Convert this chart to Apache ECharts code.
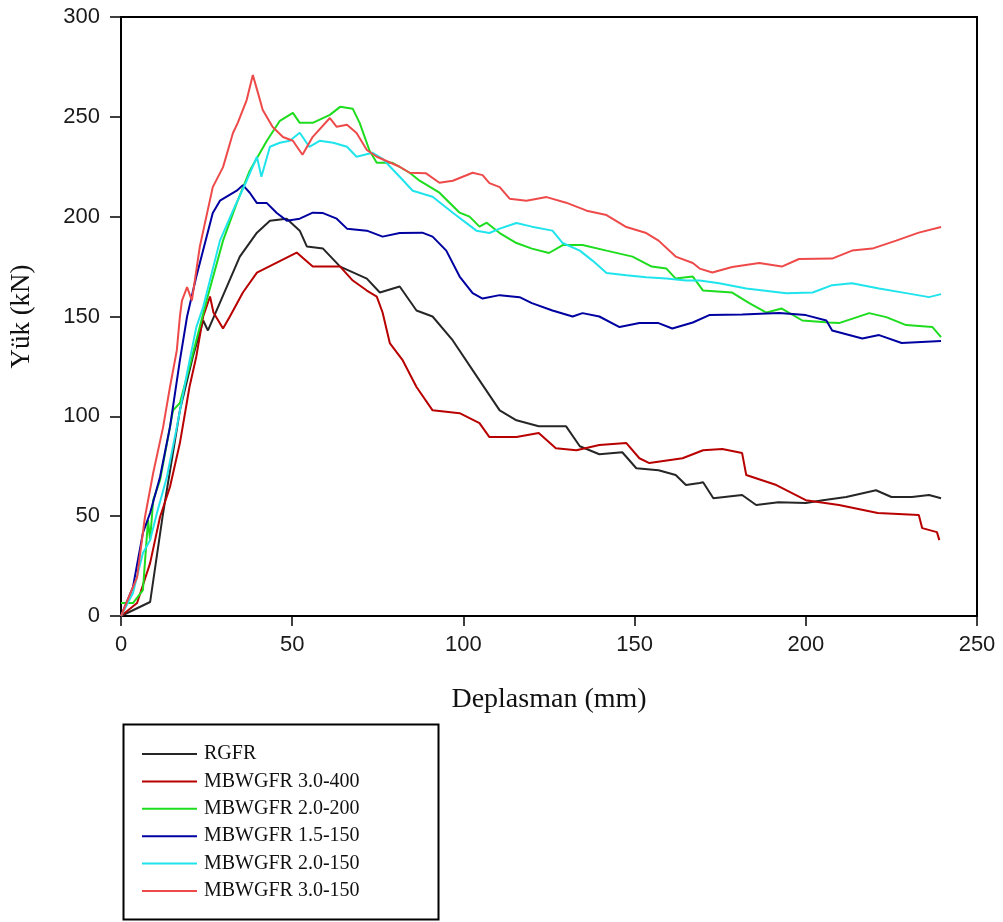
<!DOCTYPE html>
<html><head><meta charset="utf-8">
<script src="https://cdn.jsdelivr.net/npm/echarts@6/dist/echarts.min.js"></script>
<style>html,body{margin:0;padding:0;background:#fff}#c{width:1003px;height:922px}</style>
</head><body><div id="c"></div>
<script>
const xTicks = [0, 50, 100, 150, 200, 250];
const yTicks = [0, 50, 100, 150, 200, 250, 300];
const seriesNames = ['RGFR','MBWGFR 3.0-400','MBWGFR 2.0-200','MBWGFR 1.5-150','MBWGFR 2.0-150','MBWGFR 3.0-150'];

const rgfr = [[0,0],[8.5,7],[12.3,51.6],[17.2,103],[21,130],[24,148],[25.4,143],[28.9,157],[34.7,180],[39.7,192],[43.5,198],[48.4,199],[52.2,193],[54.3,185],[59,184],[64,175],[71.8,169],[75.6,162],[81.4,165],[86.3,153],[91,150],[96.9,138],[104.7,118],[110.6,103],[115.5,98],[122,95],[130,95],[134,85],[139.7,81],[146.4,82],[150.5,74],[157,73],[162,70.6],[165,65.6],[169,66.6],[170,67],[173,59],[181.4,60.6],[185.5,55.6],[192,57],[200,56.6],[205,58],[211.8,59.6],[220.5,63],[225,59.6],[231,59.6],[236,60.6],[239.5,59]];
const m30_400 = [[0,0],[4.7,6.5],[8.5,26.5],[11.4,49.6],[14.3,64.6],[17.2,86.6],[20,114.7],[22,130],[24,150],[26,160],[27,152],[29.8,144],[31.8,150],[35.6,162],[39.7,172],[45.5,177],[51.3,182],[56,175],[61,175],[64,175],[67.7,168],[71.8,163],[74.7,160],[76.4,152],[78.5,136.7],[82.3,128],[86.3,114.7],[91,103],[98.9,101.6],[104.7,96.6],[107.6,89.6],[115.5,89.6],[122,91.6],[127,84],[133,83],[139.7,85.6],[147.6,86.6],[151.4,79],[154.3,76.6],[164,79],[170,83],[175.6,83.6],[181.4,81.6],[182.6,70.6],[191.4,65.6],[200,58],[209.7,55.6],[221,51.6],[233,50.6],[234,44],[238.3,42],[239,38]];
const m20_200 = [[0,6.5],[3.5,6.5],[6.4,13],[7.9,48],[8.5,38],[9.4,58],[11.4,68],[15.2,103],[17.2,106.7],[20,124.7],[23,144.7],[25,158],[29.8,188],[33.8,206.8],[37.6,223],[42.6,238],[46.4,248],[50.2,252],[52.2,247],[56,247],[61,251],[64,255],[67.7,254],[69.7,247],[72.6,233],[74.7,227],[79.3,227],[84.3,222],[87.2,218],[93,212],[98.9,202],[101.8,200],[104.7,195],[106.8,197],[110.6,191.8],[115.5,186.8],[120,184],[125,181.8],[129,185.8],[134.8,185.8],[141.8,183],[149.4,180],[155,175],[159.3,174],[162,169],[167,170],[170,163],[178.5,162],[183.5,156.7],[188.5,152],[193,154],[199,148],[206.8,147],[209.7,146.7],[218.5,151.7],[223.5,149.7],[229.3,145.7],[237,144.7],[239.5,139.7]];
const m15_150 = [[0,0],[3.5,14.5],[6.4,41.6],[8.5,51.6],[11.4,69.6],[14.3,94.6],[17.2,128],[19.3,150],[22,170],[26.8,201.8],[28.9,208],[33.8,213],[35.6,215.8],[37.6,212],[39.7,206.8],[42.6,206.8],[45.5,201.8],[48.4,198],[52.2,199],[56,202],[59,201.8],[63,199],[66,194],[71.8,193],[76.4,190],[81.4,191.8],[88,192],[91,190],[95,183],[98.9,170],[102.7,161.7],[105.6,159],[110.6,160.7],[116.4,159.7],[120,156.7],[126,153],[131.9,150],[134.8,151.7],[139.7,150],[145.6,144.7],[151.4,146.7],[157,146.7],[161,144],[167,147],[171.8,150.7],[181.4,151],[192.2,151.7],[200,150.7],[206,148],[207.7,143],[216.5,139],[221.4,140.7],[228,136.7],[239.5,137.7]];
const m20_150 = [[0,0],[3.5,11.5],[6.4,31.5],[8.5,38],[10.5,51.6],[13.4,69.6],[16.3,94.6],[19.3,121.7],[22,144.7],[24,154.7],[28.9,188],[32.7,203],[36.7,218],[39.7,230],[41,220],[43.5,235],[46.4,237],[49.3,238],[52.2,242],[55,235],[58,238],[62,237],[66,235],[68.8,230],[73.5,232],[76.4,229],[81.4,220],[85.2,213],[91,210],[96.9,202],[103.8,193],[107.6,191.8],[110.6,194],[115.5,196.8],[120,195],[126,193],[129,186.8],[134,183],[137.7,178],[141.8,171.8],[147.6,170.7],[153.4,169.7],[159.3,169],[165,168],[169,168],[174.7,166.7],[182.6,164],[194.3,161.7],[202,162],[207.7,165.7],[213.5,166.7],[221.4,164],[229.3,161.7],[236,159.7],[239.5,161.2]];
const m30_150 = [[0,0],[4.7,19.5],[7,49.6],[9.4,71.6],[12.3,94.6],[14.3,114.7],[16.3,133],[17.2,150],[17.8,158],[19.3,164.7],[20.7,158],[23,184.8],[26.8,214.8],[29.8,224.8],[32.7,241.9],[34.1,247],[36.7,258.4],[38.5,271],[40,262],[41.4,253.4],[44.3,244.9],[47.3,239.9],[50.2,238],[53,231],[56,240],[61,249.4],[63,245],[66,246],[68.8,241.9],[71.8,233.4],[74.7,230],[81.4,225],[84.3,222],[89,221.8],[93,217],[96.9,218],[102.7,222],[105.6,220.8],[107.6,216.8],[110.6,214.8],[113.5,209],[118.4,208],[124.3,209.8],[130,207],[136,203],[141.8,200.8],[147.6,194.8],[153.4,191.8],[157,188],[162,180],[167,176.8],[169,174],[172.7,172],[178.5,174.8],[186.4,176.8],[193,175],[198,178.8],[207.7,179],[213.5,183],[219.4,184],[226.4,188],[233,192],[239.5,194.8]];

const seriesData = [rgfr, m30_400, m20_200, m15_150, m20_150, m30_150];
const colors = ['#262626','#b80000','#1edc1e','#0000a0','#20e4ec','#ee4a4a'];

const chart = echarts.init(document.getElementById('c'), null, {renderer:'canvas'});
const tickFont = {fontFamily:'Liberation Sans, Arial, sans-serif', fontSize:22, color:'#1a1a1a'};
chart.setOption({
  animation:false,
  backgroundColor:'#fff',
  grid:{left:121, top:17, width:856, height:599, show:true, borderColor:'#000', borderWidth:2, backgroundColor:'transparent'},
  xAxis:{type:'value', min:xTicks[0], max:xTicks[xTicks.length-1], interval:50,
    name:'Deplasman (mm)', nameLocation:'middle', nameGap:70,
    nameTextStyle:{fontFamily:'Liberation Serif, Times New Roman, serif', fontSize:28, color:'#111'},
    axisLine:{show:true, lineStyle:{color:'#000', width:2}},
    axisTick:{show:true, inside:false, length:10, lineStyle:{color:'#000', width:1.5}},
    axisLabel:Object.assign({margin:18}, tickFont),
    splitLine:{show:false}},
  yAxis:{type:'value', min:yTicks[0], max:yTicks[yTicks.length-1], interval:50,
    name:'Yük (kN)', nameLocation:'middle', nameGap:86, nameRotate:90,
    nameTextStyle:{fontFamily:'Liberation Serif, Times New Roman, serif', fontSize:27, color:'#111'},
    axisLine:{show:true, lineStyle:{color:'#000', width:2}},
    axisTick:{show:true, inside:false, length:11, lineStyle:{color:'#000', width:1.5}},
    axisLabel:Object.assign({margin:21}, tickFont),
    splitLine:{show:false}},
  legend:{show:true, orient:'vertical', left:137, top:739, itemWidth:55, itemHeight:20, itemGap:7.4,
    icon:'path://M0,9 L55,9 L55,11 L0,11 Z',
    textStyle:{fontFamily:'Liberation Serif, Times New Roman, serif', fontSize:20, color:'#111', padding:[0,0,0,2]},
    data:seriesNames},
  graphic:[{type:'rect', left:121, top:722, shape:{width:315, height:195}, style:{fill:'none', stroke:'#000', lineWidth:2}, z:10}],
  series: seriesData.map((d,i)=>({
    name:seriesNames[i], type:'line', data:d, showSymbol:false, symbol:'none',
    lineStyle:{color:colors[i], width:2}, itemStyle:{color:colors[i]}, z:2+i
  }))
});
</script></body></html>
